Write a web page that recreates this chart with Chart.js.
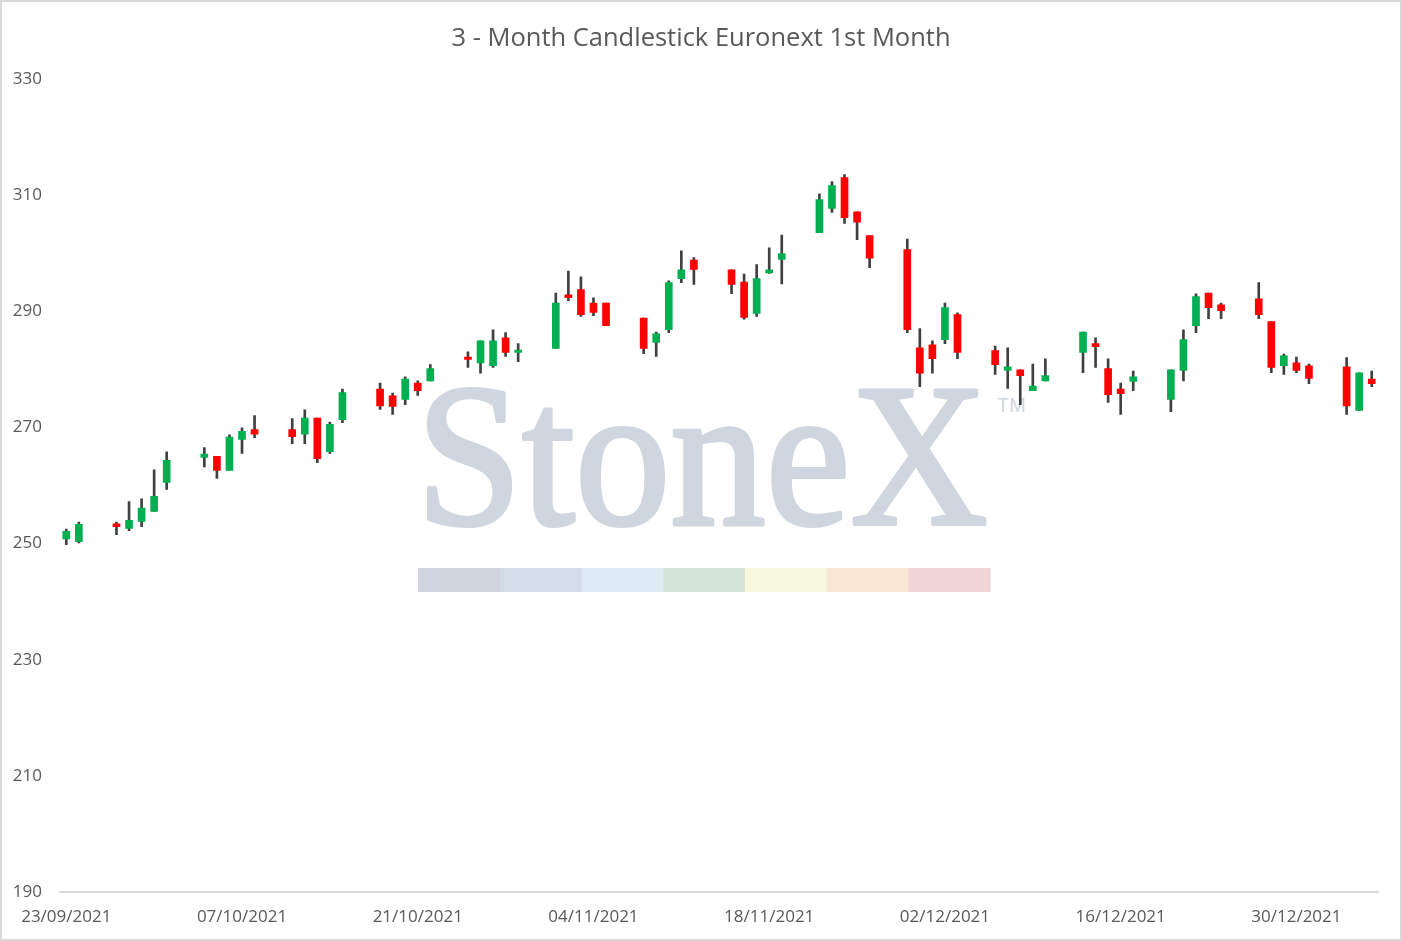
<!DOCTYPE html>
<html>
<head>
<meta charset="utf-8">
<script src="https://cdn.jsdelivr.net/npm/chart.js@4.4.0/dist/chart.umd.min.js"></script>
<style>
  html, body { margin: 0; padding: 0; background: #fff; }
  #wrap { width: 1402px; height: 941px; box-sizing: border-box; border: 2px solid #d9d9d9; position: relative; }
</style>
</head>
<body>
<div id="wrap"><canvas id="chart"></canvas></div>
<script>
// trading days
const dates = [
  "23/09/2021", "24/09/2021", "27/09/2021", "28/09/2021", "29/09/2021", "30/09/2021", "01/10/2021",
  "04/10/2021", "05/10/2021", "06/10/2021", "07/10/2021", "08/10/2021",
  "11/10/2021", "12/10/2021", "13/10/2021", "14/10/2021", "15/10/2021",
  "18/10/2021", "19/10/2021", "20/10/2021", "21/10/2021", "22/10/2021",
  "25/10/2021", "26/10/2021", "27/10/2021", "28/10/2021", "29/10/2021",
  "01/11/2021", "02/11/2021", "03/11/2021", "04/11/2021", "05/11/2021",
  "08/11/2021", "09/11/2021", "10/11/2021", "11/11/2021", "12/11/2021",
  "15/11/2021", "16/11/2021", "17/11/2021", "18/11/2021", "19/11/2021",
  "22/11/2021", "23/11/2021", "24/11/2021", "25/11/2021", "26/11/2021",
  "29/11/2021", "30/11/2021", "01/12/2021", "02/12/2021", "03/12/2021",
  "06/12/2021", "07/12/2021", "08/12/2021", "09/12/2021", "10/12/2021",
  "13/12/2021", "14/12/2021", "15/12/2021", "16/12/2021", "17/12/2021",
  "20/12/2021", "21/12/2021", "22/12/2021", "23/12/2021", "24/12/2021",
  "27/12/2021", "28/12/2021", "29/12/2021", "30/12/2021", "31/12/2021",
  "03/01/2022", "04/01/2022", "05/01/2022"
];
const openP = [
  250.8, 250.3, 253.4, 252.6, 253.8, 255.5, 260.5,
  264.8, 265.0, 262.6, 267.9, 269.6,
  269.6, 268.8, 271.6, 265.8, 271.3,
  276.6, 275.4, 274.8, 277.6, 278.0,
  282.1, 281.1, 280.6, 285.4, 282.9,
  283.6, 292.8, 293.7, 291.4, 291.4,
  288.8, 284.6, 286.8, 295.6, 298.8,
  297.1, 295.0, 289.6, 296.6, 298.9,
  303.5, 307.7, 313.0, 307.1, 303.0,
  300.6, 283.7, 284.2, 285.1, 289.4,
  283.2, 279.8, 279.9, 276.3, 278.0,
  282.9, 284.4, 280.1, 276.6, 277.9,
  274.8, 279.8, 287.5, 293.1, 291.1,
  292.1, 288.2, 280.6, 281.1, 280.6,
  280.4, 272.9, 278.3
];
const highP = [
  252.5, 253.7, 253.7, 257.2, 257.7, 262.7, 265.8,
  266.5, 265.0, 268.7, 269.9, 272.0,
  271.5, 273.0, 271.6, 270.9, 276.6,
  277.6, 275.9, 278.7, 278.0, 280.8,
  283.0, 284.9, 286.8, 286.3, 284.4,
  293.1, 296.9, 295.9, 292.3, 291.4,
  288.8, 286.4, 295.2, 300.4, 299.2,
  297.1, 296.4, 298.0, 300.9, 303.1,
  310.2, 312.3, 313.5, 307.1, 303.0,
  302.4, 287.0, 284.9, 291.4, 289.7,
  284.0, 283.7, 279.9, 280.9, 281.8,
  286.4, 285.4, 281.8, 277.6, 279.7,
  279.9, 286.8, 293.0, 293.1, 291.4,
  294.9, 288.2, 282.6, 282.1, 280.9,
  282.0, 279.4, 279.7
];
const lowP = [
  249.8, 250.1, 251.5, 252.2, 252.9, 255.5, 259.3,
  263.2, 261.2, 262.6, 265.5, 268.2,
  267.2, 267.2, 263.9, 265.5, 270.8,
  273.1, 272.2, 273.9, 275.5, 278.0,
  280.3, 279.3, 280.3, 282.2, 281.3,
  283.6, 291.8, 289.1, 289.2, 287.5,
  282.7, 282.2, 286.3, 294.9, 294.6,
  293.0, 288.6, 289.1, 296.5, 294.7,
  303.5, 307.0, 305.1, 302.3, 297.5,
  286.3, 277.0, 279.3, 284.4, 281.8,
  279.1, 276.7, 273.9, 276.3, 278.0,
  279.4, 280.3, 274.3, 272.2, 276.3,
  272.7, 278.0, 286.3, 288.7, 288.7,
  288.7, 279.4, 279.1, 279.4, 277.5,
  272.2, 272.9, 277.0
];
const closeP = [
  252.1, 253.3, 252.9, 254.0, 256.1, 258.1, 264.3,
  265.4, 262.6, 268.3, 269.3, 268.8,
  268.4, 271.6, 264.6, 270.5, 276.0,
  273.7, 273.6, 278.3, 276.3, 280.1,
  281.7, 284.9, 284.9, 282.9, 283.3,
  291.4, 292.3, 289.4, 289.8, 287.5,
  283.6, 286.1, 294.9, 297.1, 297.2,
  294.6, 288.9, 295.6, 297.1, 299.9,
  309.2, 311.6, 306.1, 305.3, 299.1,
  286.8, 279.3, 281.8, 290.6, 282.9,
  280.8, 280.4, 278.9, 277.1, 278.9,
  286.4, 283.9, 275.6, 275.8, 278.7,
  279.9, 285.1, 292.5, 290.6, 290.1,
  289.4, 280.3, 282.3, 279.8, 278.4,
  273.7, 279.4, 277.5
];
const yTicks = [190, 210, 230, 250, 270, 290, 310, 330];
const tickLabels = ["23/09/2021", "07/10/2021", "21/10/2021", "04/11/2021",
  "18/11/2021", "02/12/2021", "16/12/2021", "30/12/2021"];

const UP = "#00B050";
const DOWN = "#FF0000";
const WICK = "#404040";
const TEXT = "#595959";
const FONT = "'Open Sans', sans-serif";

// every calendar day from first to last trading day (date axis)
function parseDate(s) {
  const p = s.split("/");
  return Date.UTC(+p[2], +p[1] - 1, +p[0]);
}
function fmtDate(t) {
  const d = new Date(t);
  const dd = String(d.getUTCDate()).padStart(2, "0");
  const mm = String(d.getUTCMonth() + 1).padStart(2, "0");
  return dd + "/" + mm + "/" + d.getUTCFullYear();
}
const days = [];
for (let t = parseDate(dates[0]); t <= parseDate(dates[dates.length - 1]); t += 86400000) {
  days.push(fmtDate(t));
}

const candleColor = (ctx) => (closeP[ctx.dataIndex] >= openP[ctx.dataIndex] ? UP : DOWN);

// faint StoneX watermark behind the candles
const stonexLogo = {
  id: "stonexLogo",
  beforeDatasetsDraw(chart) {
    const ctx = chart.ctx;
    ctx.save();
    ctx.fillStyle = "#cfd6df";
    ctx.strokeStyle = "#cfd6df";
    ctx.font = "204px 'Liberation Serif', serif";
    ctx.textBaseline = "alphabetic";
    const w = ctx.measureText("StoneX").width;
    ctx.translate(414, 522);
    ctx.scale(572 / w, 1);
    ctx.lineWidth = 4;
    ctx.lineJoin = "round";
    ctx.fillText("StoneX", 0, 0);
    ctx.strokeText("StoneX", 0, 0);
    ctx.restore();

    ctx.save();
    ctx.fillStyle = "#cfd6df";
    ctx.font = "20px 'Liberation Sans', sans-serif";
    ctx.textBaseline = "top";
    ctx.fillText("TM", 995, 394);

    const bands = ["#cfd5de", "#d3dde8", "#deeaf4", "#d5e5da", "#f8f8df", "#f9e9d3", "#f1d5d6"];
    const bw = 572 / bands.length;
    bands.forEach((c, i) => {
      ctx.fillStyle = c;
      ctx.fillRect(416 + i * bw, 566, bw + 0.5, 24);
    });
    ctx.restore();
  }
};

new Chart(document.getElementById("chart"), {
  type: "bar",
  data: {
    labels: days,
    datasets: [
      {
        label: "Body",
        data: dates.map((d, i) => ({ x: d, y: [openP[i], closeP[i]] })),
        backgroundColor: candleColor,
        borderWidth: 0,
        barThickness: 7,
        grouped: false,
        order: 1,
      },
      {
        label: "Wick",
        data: dates.map((d, i) => ({ x: d, y: [lowP[i], highP[i]] })),
        backgroundColor: WICK,
        borderWidth: 0,
        barThickness: 2,
        grouped: false,
        order: 2,
      },
    ],
  },
  options: {
    responsive: true,
    maintainAspectRatio: false,
    animation: false,
    layout: { padding: 0 },
    plugins: {
      legend: { display: false },
      tooltip: { enabled: false },
      title: {
        display: true,
        text: "3 - Month Candlestick Euronext 1st Month",
        color: TEXT,
        font: { family: FONT, size: 25.5, weight: "normal", lineHeight: 1.2 },
        padding: { top: 21.2, bottom: 25 },
      },
    },
    scales: {
      x: {
        type: "category",
        offset: true,
        grid: { display: false, drawTicks: false },
        border: { display: true, color: "#d9d9d9", width: 2 },
        ticks: {
          autoSkip: false,
          maxRotation: 0,
          minRotation: 0,
          padding: 15,
          color: TEXT,
          font: { family: FONT, size: 17 },
          callback: function (value, index) {
            const lbl = days[index];
            return tickLabels.includes(lbl) ? lbl : "";
          },
        },
        afterFit: function (scale) {
          scale.height = 47;
        },
      },
      y: {
        min: 190,
        max: 330,
        grid: { display: false, drawTicks: false },
        border: { display: false },
        ticks: {
          padding: 18,
          color: TEXT,
          font: { family: FONT, size: 17 },
        },
        afterBuildTicks: function (scale) {
          scale.ticks = yTicks.map((v) => ({ value: v }));
        },
        afterFit: function (scale) {
          scale.width = 58;
        },
      },
      // empty right-hand margin so the title stays centred on the whole chart
      yRight: {
        position: "right",
        grid: { display: false, drawTicks: false },
        border: { display: false },
        ticks: { display: false },
        afterFit: function (scale) {
          scale.width = 22;
        },
      },
    },
  },
  plugins: [stonexLogo],
});
</script>
</body>
</html>
